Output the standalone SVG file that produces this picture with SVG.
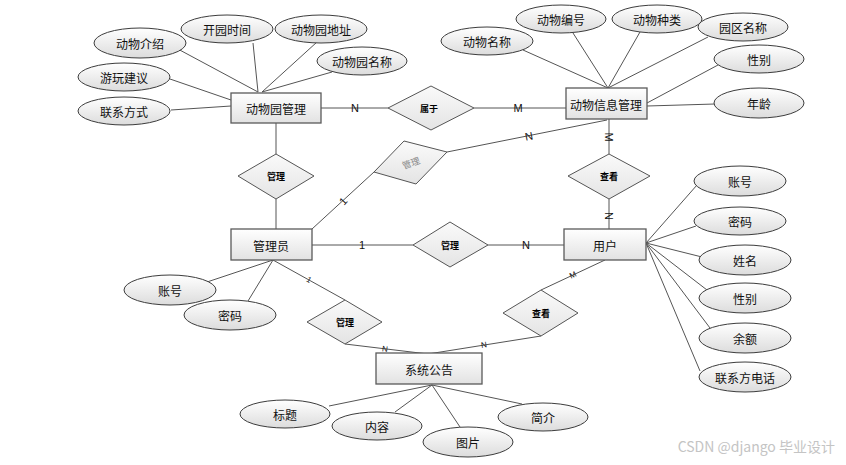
<svg xmlns="http://www.w3.org/2000/svg" width="846" height="465" viewBox="0 0 846 465">
<defs>
<linearGradient id="gE" x1="0" y1="0" x2="0" y2="1"><stop offset="0" stop-color="#ffffff"/><stop offset="1" stop-color="#dcdcdc"/></linearGradient>
<linearGradient id="gR" x1="0" y1="0" x2="0" y2="1"><stop offset="0" stop-color="#ffffff"/><stop offset="1" stop-color="#e2e2e2"/></linearGradient>
<linearGradient id="gD" x1="0" y1="0" x2="0" y2="1"><stop offset="0" stop-color="#fafafa"/><stop offset="1" stop-color="#e4e4e4"/></linearGradient>
<style>
.e{fill:url(#gE);stroke:#3c3c3c;stroke-width:1}
.r{fill:url(#gR);stroke:#5a5a5a;stroke-width:1.3}
.d{fill:url(#gD);stroke:#555;stroke-width:1}
.t{font-family:"Noto Sans CJK SC","Microsoft YaHei",sans-serif;font-size:12px;fill:#111;text-anchor:middle;dominant-baseline:central}
.dt{font-family:"Noto Sans CJK SC",sans-serif;font-size:9px;font-weight:bold;fill:#000;text-anchor:middle;dominant-baseline:central}
.c{font-family:"Liberation Sans",Arial,sans-serif;font-size:11px;fill:#111;text-anchor:middle;dominant-baseline:central}
.cs{font-family:"Liberation Sans",Arial,sans-serif;font-size:8px;fill:#111;text-anchor:middle;dominant-baseline:central}
.l{stroke:#555;stroke-width:1;fill:none}
</style>
</defs>
<rect width="846" height="465" fill="#ffffff"/>
<g id="connectors">
<line class="l" x1="176" y1="48" x2="258" y2="92"/>
<line class="l" x1="253" y1="43" x2="258" y2="92"/>
<line class="l" x1="317" y1="42" x2="262" y2="92"/>
<line class="l" x1="332" y1="72" x2="262" y2="92"/>
<line class="l" x1="170" y1="79" x2="231" y2="100"/>
<line class="l" x1="171" y1="110" x2="231" y2="106"/>
<line class="l" x1="321" y1="108" x2="388" y2="108"/>
<line class="l" x1="474" y1="108" x2="566" y2="108"/>
<line class="l" x1="276" y1="123" x2="276" y2="154"/>
<line class="l" x1="276" y1="199" x2="276" y2="229"/>
<line class="l" x1="523" y1="50" x2="608" y2="88"/>
<line class="l" x1="573" y1="33" x2="608" y2="88"/>
<line class="l" x1="640" y1="32" x2="608" y2="88"/>
<line class="l" x1="708" y1="37" x2="608" y2="88"/>
<line class="l" x1="718" y1="65" x2="647" y2="103"/>
<line class="l" x1="715" y1="104" x2="647" y2="106"/>
<line class="l" x1="609" y1="119" x2="609" y2="154"/>
<line class="l" x1="609" y1="199" x2="609" y2="229"/>
<line class="l" x1="312" y1="229" x2="374" y2="172"/>
<line class="l" x1="447" y1="152" x2="607" y2="120"/>
<line class="l" x1="312" y1="245" x2="413" y2="245"/>
<line class="l" x1="488" y1="245" x2="564" y2="245"/>
<line class="l" x1="273" y1="260" x2="207" y2="282"/>
<line class="l" x1="273" y1="260" x2="248" y2="301"/>
<line class="l" x1="273" y1="260" x2="345" y2="300"/>
<line class="l" x1="345" y1="344" x2="428" y2="354"/>
<line class="l" x1="605" y1="260" x2="541" y2="290"/>
<line class="l" x1="541" y1="336" x2="428" y2="354"/>
<line class="l" x1="646" y1="243" x2="697" y2="185"/>
<line class="l" x1="646" y1="243" x2="696" y2="226"/>
<line class="l" x1="646" y1="243" x2="702" y2="257"/>
<line class="l" x1="646" y1="243" x2="707" y2="290"/>
<line class="l" x1="646" y1="243" x2="710" y2="328"/>
<line class="l" x1="646" y1="243" x2="700" y2="371"/>
<line class="l" x1="432" y1="385" x2="329" y2="406"/>
<line class="l" x1="432" y1="385" x2="395" y2="412"/>
<line class="l" x1="432" y1="385" x2="460" y2="427"/>
<line class="l" x1="432" y1="385" x2="522" y2="404"/>
<text class="c" x="355" y="108">N</text>
<text class="c" x="518" y="108">M</text>
<text class="c" x="609" y="137" transform="rotate(90 609 137)">M</text>
<text class="c" x="609" y="216" transform="rotate(90 609 216)">N</text>
<text class="c" x="343" y="201" transform="rotate(-48 343 201)">1</text>
<text class="c" x="529" y="136" transform="rotate(-11 529 136)">N</text>
<text class="c" x="362" y="245">1</text>
<text class="c" x="526" y="245">N</text>
<text class="cs" x="309" y="280" transform="rotate(30 309 280)">1</text>
<text class="cs" x="385" y="349" transform="rotate(7 385 349)">N</text>
<text class="cs" x="484" y="345" transform="rotate(-9 484 345)">N</text>
<text class="cs" x="573" y="275" transform="rotate(-25 573 275)">M</text>
</g>
<g id="zoo"><rect class="r" x="231" y="93" width="90" height="30"/><text class="t" x="276" y="108">动物园管理</text></g>
<g id="animal"><rect class="r" x="566" y="88" width="81" height="31"/><text class="t" x="606" y="104">动物信息管理</text></g>
<g id="admin"><rect class="r" x="231" y="229" width="81" height="31"/><text class="t" x="271" y="245">管理员</text></g>
<g id="user"><rect class="r" x="564" y="229" width="82" height="31"/><text class="t" x="605" y="245">用户</text></g>
<g id="notice"><rect class="r" x="376" y="353" width="106" height="31"/><text class="t" x="429" y="369">系统公告</text></g>
<g id="r-belong"><polygon class="d" points="388,108 431,86 474,108 431,130"/><text class="dt" x="429" y="108">属于</text></g>
<g id="r-manage1"><polygon class="d" points="238,176 276,154 314,176 276,199"/><text class="dt" x="276" y="176">管理</text></g>
<g id="r-manage2"><polygon class="d" points="374,172 404,141 447,152 416,184"/><text class="dt" x="411" y="163" style="fill:#888;font-weight:normal" transform="rotate(-20 411 163)">管理</text></g>
<g id="r-view1"><polygon class="d" points="568,176 609,154 650,176 609,199"/><text class="dt" x="609" y="176">查看</text></g>
<g id="r-manage3"><polygon class="d" points="413,245 450,222 488,245 450,267"/><text class="dt" x="450" y="245">管理</text></g>
<g id="r-manage4"><polygon class="d" points="307,322 345,300 382,322 345,344"/><text class="dt" x="345" y="322">管理</text></g>
<g id="r-view2"><polygon class="d" points="503,313 541,290 578,313 541,336"/><text class="dt" x="541" y="313">查看</text></g>
<g id="a-zoo-intro"><ellipse class="e" cx="140" cy="43" rx="46" ry="15"/><text class="t" x="140" y="43">动物介绍</text></g>
<g id="a-zoo-open"><ellipse class="e" cx="227" cy="29" rx="46" ry="14"/><text class="t" x="227" y="29">开园时间</text></g>
<g id="a-zoo-addr"><ellipse class="e" cx="321" cy="29" rx="46" ry="14"/><text class="t" x="321" y="29">动物园地址</text></g>
<g id="a-zoo-name"><ellipse class="e" cx="362" cy="61" rx="45" ry="14"/><text class="t" x="362" y="61">动物园名称</text></g>
<g id="a-zoo-tip"><ellipse class="e" cx="124" cy="77" rx="46" ry="14"/><text class="t" x="124" y="77">游玩建议</text></g>
<g id="a-zoo-contact"><ellipse class="e" cx="124" cy="111" rx="46" ry="14"/><text class="t" x="124" y="111">联系方式</text></g>
<g id="a-an-name"><ellipse class="e" cx="487" cy="41" rx="46" ry="14"/><text class="t" x="487" y="41">动物名称</text></g>
<g id="a-an-no"><ellipse class="e" cx="561" cy="19" rx="45" ry="14"/><text class="t" x="561" y="19">动物编号</text></g>
<g id="a-an-kind"><ellipse class="e" cx="657" cy="19" rx="45" ry="14"/><text class="t" x="657" y="19">动物种类</text></g>
<g id="a-an-area"><ellipse class="e" cx="743" cy="27" rx="45" ry="14"/><text class="t" x="743" y="27">园区名称</text></g>
<g id="a-an-sex"><ellipse class="e" cx="759" cy="59" rx="45" ry="14"/><text class="t" x="759" y="59">性别</text></g>
<g id="a-an-age"><ellipse class="e" cx="759" cy="103" rx="45" ry="15"/><text class="t" x="759" y="103">年龄</text></g>
<g id="a-ad-acc"><ellipse class="e" cx="170" cy="290" rx="46" ry="15"/><text class="t" x="170" y="290">账号</text></g>
<g id="a-ad-pwd"><ellipse class="e" cx="230" cy="315" rx="46" ry="15"/><text class="t" x="230" y="315">密码</text></g>
<g id="a-u-acc"><ellipse class="e" cx="740" cy="181" rx="46" ry="15"/><text class="t" x="740" y="181">账号</text></g>
<g id="a-u-pwd"><ellipse class="e" cx="740" cy="221" rx="46" ry="14"/><text class="t" x="740" y="221">密码</text></g>
<g id="a-u-name"><ellipse class="e" cx="745" cy="260" rx="46" ry="15"/><text class="t" x="745" y="260">姓名</text></g>
<g id="a-u-sex"><ellipse class="e" cx="745" cy="298" rx="46" ry="15"/><text class="t" x="745" y="298">性别</text></g>
<g id="a-u-bal"><ellipse class="e" cx="745" cy="338" rx="46" ry="15"/><text class="t" x="745" y="338">余额</text></g>
<g id="a-u-tel"><ellipse class="e" cx="745" cy="377" rx="46" ry="15"/><text class="t" x="745" y="377">联系方电话</text></g>
<g id="a-n-title"><ellipse class="e" cx="285" cy="414" rx="45" ry="14"/><text class="t" x="285" y="414">标题</text></g>
<g id="a-n-content"><ellipse class="e" cx="377" cy="426" rx="45" ry="14"/><text class="t" x="377" y="426">内容</text></g>
<g id="a-n-pic"><ellipse class="e" cx="468" cy="442" rx="45" ry="15"/><text class="t" x="468" y="442">图片</text></g>
<g id="a-n-intro"><ellipse class="e" cx="543" cy="417" rx="45" ry="14"/><text class="t" x="543" y="417">简介</text></g>
<text x="835" y="452" text-anchor="end" style="font-family:'Noto Sans CJK SC',sans-serif;font-size:14px;fill:#c4c4c4">CSDN @django   毕业设计</text>
</svg>
